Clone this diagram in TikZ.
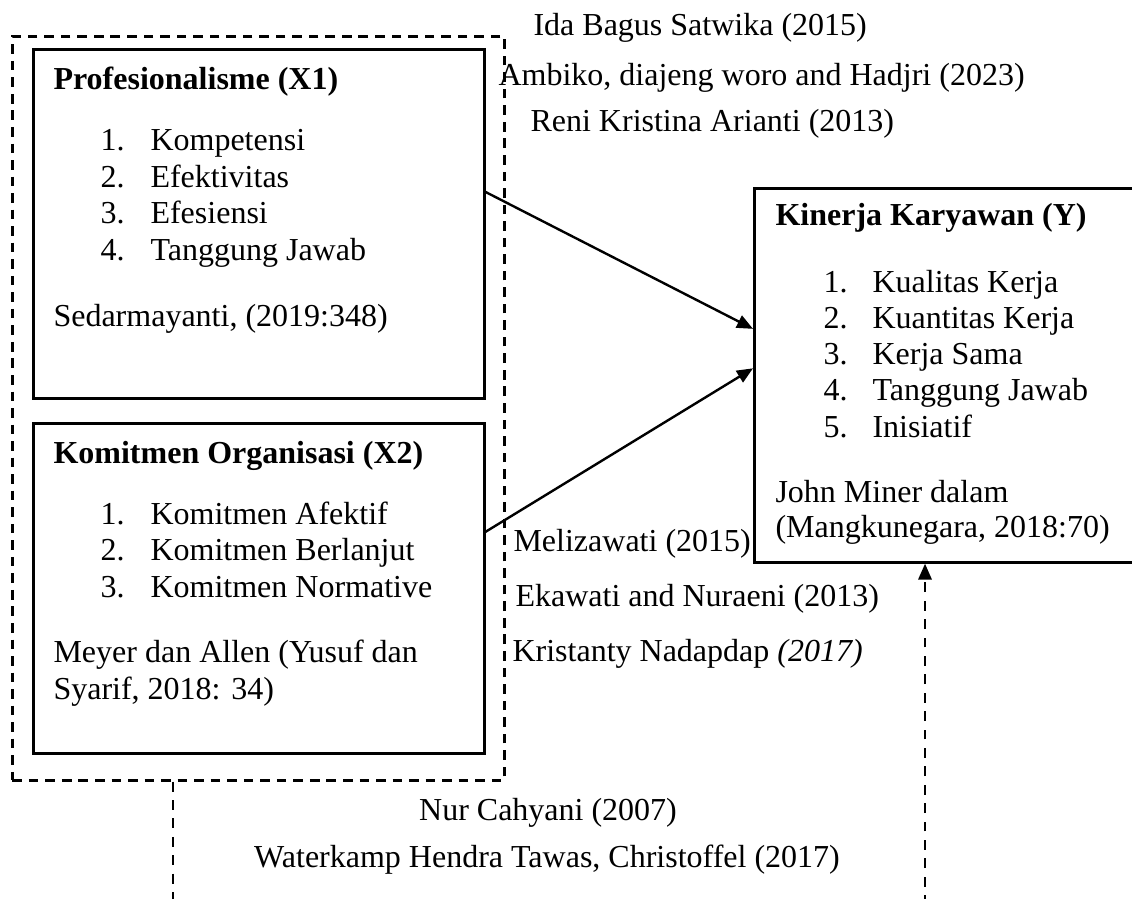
\documentclass[tikz,border=0pt]{standalone}
\usepackage{fontspec}
\setmainfont{Liberation Serif}
\usetikzlibrary{arrows.meta}

\tikzset{
  solidbox/.style={draw, line width=1pt, inner sep=0pt, anchor=north west},
  groupbox/.style={draw, line width=1pt, dash pattern=on 3.6pt off 2.6pt, inner sep=0pt, anchor=north west},
  dashline/.style={line width=1pt, dash pattern=on 3.7pt off 3.2pt},
  txt/.style={anchor=base west, inner sep=0pt, font=\fontsize{12}{14}\selectfont},
  ctxt/.style={txt, anchor=base},
  link/.style={-{Triangle[length=6pt,width=5pt]}, line width=0.9pt},
}

\begin{document}
\begin{tikzpicture}[x=0.375pt, y=-0.375pt]
\useasboundingbox (0,0) rectangle (1132,898);
\clip (0,0) rectangle (1132,898);

% define the boxes
  \node[groupbox, minimum width=184.5pt, minimum height=279pt] (grp) at (11,35) {};
  \node[solidbox, minimum width=169.1pt, minimum height=130.9pt] (x1) at (32,48) {};
  \node[solidbox, minimum width=169.1pt, minimum height=123.75pt] (x2) at (32,422) {};
  \node[solidbox, minimum width=150pt, minimum height=140.25pt] (ky) at (753,187) {};

% box contents
  \node[txt] (x1title) at (53,90) {\textbf{Profesionalisme (X1)}};
  \foreach \t [count=\i] in {Kompetensi, Efektivitas, Efesiensi, Tanggung Jawab} {
    \node[txt] (x1n\i) at (100,{151+36.5*(\i-1)}) {\i.};
    \node[txt] (x1i\i) at (150,{151+36.5*(\i-1)}) {\t};
  }
  \node[txt] (x1src) at (53,326) {Sedarmayanti, (2019:348)};

  \node[txt] (x2title) at (53,463) {\textbf{Komitmen Organisasi (X2)}};
  \foreach \t [count=\i] in {Komitmen Afektif, Komitmen Berlanjut, Komitmen Normative} {
    \node[txt] (x2n\i) at (100,{524+36.5*(\i-1)}) {\i.};
    \node[txt] (x2i\i) at (150,{524+36.5*(\i-1)}) {\t};
  }
  \node[txt] (x2src) at (53,662) {Meyer dan Allen (Yusuf dan};
  \node[txt] (x2src2) at (53,699) {Syarif, 2018: 34)};

  \node[txt] (kytitle) at (775,225) {\textbf{Kinerja Karyawan (Y)}};
  \foreach \t [count=\i] in {Kualitas Kerja, Kuantitas Kerja, Kerja Sama, Tanggung Jawab, Inisiatif} {
    \node[txt] (kyn\i) at (823,{292+36.3*(\i-1)}) {\i.};
    \node[txt] (kyi\i) at (872,{292+36.3*(\i-1)}) {\t};
  }
  \node[txt] (kysrc) at (775,502) {John Miner dalam};
  \node[txt] (kysrc2) at (775,537) {(Mangkunegara, 2018:70)};

% references
  \node[txt] (r1) at (533,36) {Ida Bagus Satwika (2015)};
  \node[txt] (r2) at (498,86) {Ambiko, diajeng woro and Hadjri (2023)};
  \node[txt] (r3) at (530,132) {Reni Kristina Arianti (2013)};
  \node[txt] (r4) at (513,551) {Melizawati (2015)};
  \node[txt] (r5) at (515,606) {Ekawati and Nuraeni (2013)};
  \node[txt] (r6) at (512,661) {Kristanty Nadapdap \textit{(2017)}};
  \node[ctxt] (r7) at (548,820) {Nur Cahyani (2007)};
  \node[ctxt] (r8) at (547,867) {Waterkamp Hendra Tawas, Christoffel (2017)};

% define the links
  \draw[link] (x1.8.45) -- (ky.167.3);
  \draw[link] (x2.14.43) -- (ky.178);

  \coordinate (xfoot) at (173,905);
  \coordinate (yfoot) at (925,905);
  \draw[dashline] (xfoot |- grp.south) -- (xfoot);
  \draw[dashline, link] (yfoot) -- (yfoot |- ky.south);

\end{tikzpicture}
\end{document}
